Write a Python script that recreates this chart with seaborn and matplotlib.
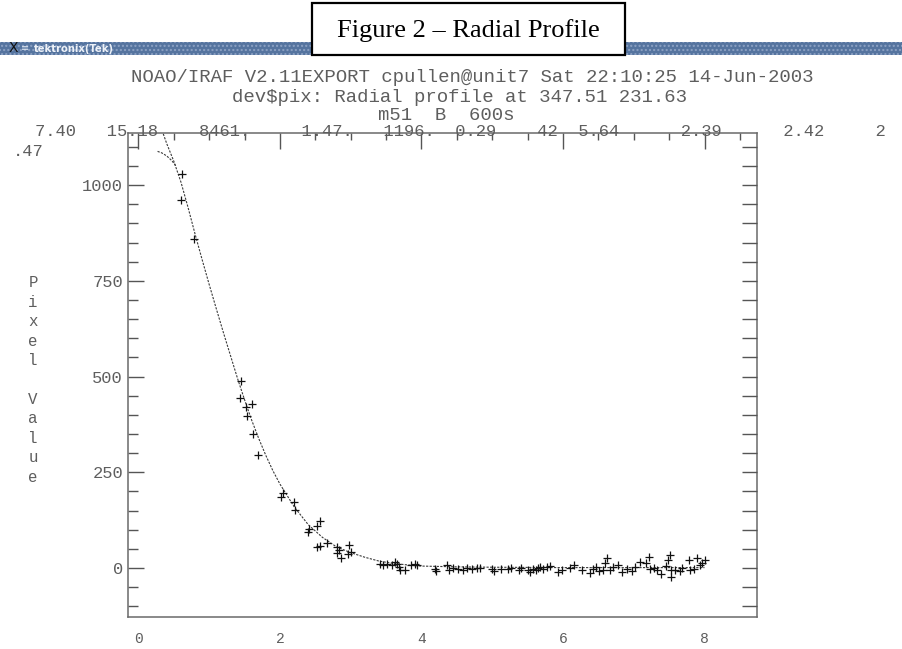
import numpy as np
import pandas as pd
import matplotlib
matplotlib.use("Agg")
import matplotlib.pyplot as plt
import seaborn as sns
from matplotlib.patches import Rectangle
from matplotlib.ticker import MultipleLocator, FixedLocator, NullLocator

# ---- measured radial profile (radius in pixels, pixel value in counts) ----
radius = [
    0.61, 0.60, 0.79,
    1.45, 1.44, 1.52, 1.60, 1.54, 1.62, 1.69,
    2.04, 2.02, 2.20, 2.21, 2.41, 2.40, 2.52, 2.56, 2.52, 2.57, 2.67,
    2.81, 2.84, 2.81, 2.86, 2.98, 3.01, 2.96,
    3.41, 3.45, 3.51, 3.58, 3.62, 3.65, 3.68, 3.70, 3.76, 3.85, 3.91, 3.93,
    4.19, 4.20, 4.36, 4.39, 4.45, 4.52, 4.59, 4.65, 4.71, 4.79, 4.82, 4.99, 5.02,
    5.13, 5.22, 5.27, 5.38, 5.40, 5.50, 5.54, 5.58, 5.62, 5.65, 5.68, 5.72,
    5.77, 5.82, 5.93, 5.98, 6.10, 6.15, 6.27, 6.38, 6.42, 6.47, 6.51, 6.56,
    6.60, 6.62, 6.66, 6.71, 6.78, 6.84, 6.90, 6.97, 7.02, 7.09, 7.18, 7.22,
    7.23, 7.28, 7.33, 7.39, 7.46, 7.48, 7.51, 7.52, 7.53, 7.58, 7.65, 7.68,
    7.78, 7.80, 7.85, 7.89, 7.93, 7.96, 8.01,
]
pixel_value = [
    1030, 962, 859,
    489, 444, 421, 429, 396, 351, 294,
    196, 185, 172, 151, 101, 94, 109, 123, 55, 57, 64,
    55, 46, 38, 27, 59, 42, 36,
    11, 7, 11, 7, 16, 11, 3, -4, -4, 7, 11, 9,
    -2, -8, 7, -4, 1, -2, -6, 1, -2, 1, 1, -2, -8,
    -2, -2, 1, -6, 1, -4, -10, -2, -6, 1, 3, -2,
    3, 5, -10, -4, 1, 7, -4, -14, -2, 3, -8, -4,
    12, 25, -6, 3, 7, -10, -2, -8, 3, 16, 12, 28,
    -2, 1, -4, -16, 5, 20, 33, -6, -23, -4, -8, 1,
    20, -6, -2, 25, 7, 12, 20,
]

# ---- fitted profile curves ----
fit_radius = [0.30, 0.40, 0.50, 0.60, 0.70, 0.80, 0.90, 1.00, 1.10, 1.20,
              1.30, 1.40, 1.50, 1.60, 1.70, 1.80, 1.90, 2.00, 2.20, 2.40,
              2.60, 2.80, 3.00, 3.20, 3.40, 3.60, 3.80, 4.00, 4.50, 5.00,
              6.00, 7.00, 8.00]
fit_value = [1160, 1108, 1062, 1008, 942, 872, 805, 740, 677, 615,
             555, 495, 439, 386, 338, 294, 254, 219, 160, 113,
             80, 55, 40, 28, 18, 12, 8, 5, 3, 2,
             1, 1, 1]
core_radius = [0.27, 0.33, 0.40, 0.47, 0.53]
core_value = [1088, 1084, 1076, 1064, 1050]

# ---- axis ticks ----
x_ticks = [0, 2, 4, 6, 8]
y_ticks = [0, 250, 500, 750, 1000]

# ---- text ----
window_title = "tektronix(Tek)"
caption = "Figure 2 \u2013 Radial Profile"
system_title = "NOAO/IRAF V2.11EXPORT cpullen@unit7 Sat 22:10:25 14-Jun-2003"
plot_title = "dev$pix: Radial profile at 347.51 231.63"
image_title = "m51  B  600s"
fit_values = ["7.40", "15.18", "8461.", "1.47.", "1196.", "0.29", "42",
              "5.64", "2.39", "2.42", "2"]
fit_columns = [0, 7, 16, 26, 34, 41, 49, 53, 63, 73, 82]
wrap_value = ".47"
y_label = "P\ni\nx\ne\nl\n\nV\na\nl\nu\ne"

W, H = 902, 649
sns.set_style("white")
plt.rcParams["font.family"] = ["Liberation Mono", "DejaVu Sans Mono"]

fig = plt.figure(figsize=(W / 100, H / 100), dpi=100)
fig.patch.set_facecolor("white")


def fx(px):
    return px / W


def fy(py):
    return 1 - py / H


TEK_GRAY = "#5e5e5e"
TEK_SIZE = 12.3      # header numbers and axis labels
TITLE_SIZE = 13.7    # title lines use a slightly wider character cell
TICK_COLOR = "#555555"

# ---- plot frame ----
ax = fig.add_axes([fx(128), fy(617), (757 - 128) / W, (617 - 133) / H])
ax.set_facecolor("white")

profile = pd.DataFrame({"radius": radius, "value": pixel_value})
fit = pd.DataFrame({"radius": fit_radius, "value": fit_value})
core = pd.DataFrame({"radius": core_radius, "value": core_value})

sns.lineplot(data=fit, x="radius", y="value", ax=ax, sort=False,
             estimator=None, color="#3a3a3a", linewidth=0.8,
             linestyle=(0, (2.0, 1.2)))
sns.lineplot(data=core, x="radius", y="value", ax=ax, sort=False,
             estimator=None, color="#3a3a3a", linewidth=0.8,
             linestyle=(0, (2.0, 1.2)))
sns.scatterplot(data=profile, x="radius", y="value", ax=ax, marker="+",
                color="#111111", s=38, linewidth=0.9, zorder=3)

YLIM = (-128, 1136)
ax.set_xlim(-0.148, 8.742)
ax.set_ylim(*YLIM)
ax.set_xlabel("")
ax.set_ylabel("")

ax.xaxis.set_major_locator(FixedLocator(x_ticks))
ax.xaxis.set_minor_locator(MultipleLocator(0.5))
ax.yaxis.set_major_locator(FixedLocator(y_ticks))
ax.yaxis.set_minor_locator(MultipleLocator(50))
ax.set_xticklabels([str(v) for v in x_ticks])
ax.set_yticklabels([str(v) for v in y_ticks])

# right-hand scale: evenly spaced ticks of one length every 50 counts
ax_r = ax.twinx()
ax_r.set_ylim(*YLIM)
ax_r.yaxis.set_major_locator(MultipleLocator(50))
ax_r.yaxis.set_minor_locator(NullLocator())
ax_r.tick_params(axis="y", which="major", direction="in", length=11,
                 width=1.0, color=TICK_COLOR, labelright=False)
for sp in ax_r.spines.values():
    sp.set_visible(False)

ax.tick_params(which="both", direction="in", top=True, right=False,
               color=TICK_COLOR, width=1.0)
ax.tick_params(which="major", length=11.5)
ax.tick_params(axis="x", which="minor", length=5.0)
ax.tick_params(axis="y", which="minor", length=7.0)
ax.tick_params(axis="x", which="major", pad=11, labelsize=TEK_SIZE - 1.8,
               labelcolor=TEK_GRAY)
ax.tick_params(axis="y", which="major", pad=3.5, labelsize=TEK_SIZE,
               labelcolor=TEK_GRAY)
for sp in ax.spines.values():
    sp.set_visible(True)
    sp.set_color("#6a6a6a")
    sp.set_linewidth(1.1)

# ---- window title bar and caption box ----
bar = Rectangle((0, fy(55)), 1, (55 - 42) / H, transform=fig.transFigure,
                facecolor="#55749f", edgecolor="#8da2c4", hatch="....",
                linewidth=0, zorder=1)
fig.patches.append(bar)
fig.text(fx(9), fy(48.5), "X", color="#101010", fontsize=10,
         family="DejaVu Sans", va="center", ha="left", zorder=2)
fig.text(fx(21), fy(48.5), "\u2261", color="#dfe6f0", fontsize=7,
         family="DejaVu Sans", va="center", ha="left", zorder=2)
fig.text(fx(34), fy(48.5), window_title, color="#eef2f8", fontsize=7.2,
         family="DejaVu Sans", weight="bold", va="center", ha="left", zorder=2)

box = Rectangle((fx(312), fy(55)), (625 - 312) / W, (55 - 3) / H,
                transform=fig.transFigure, facecolor="white",
                edgecolor="black", linewidth=1.6, zorder=4)
fig.patches.append(box)
fig.text(fx(468.5), fy(31), caption, fontsize=19, family="Liberation Serif",
         color="black", ha="center", va="center", zorder=5)

# ---- Tektronix header text ----
fig.text(fx(472), fy(78), system_title, fontsize=TITLE_SIZE, color=TEK_GRAY,
         ha="center", va="center", parse_math=False)
fig.text(fx(460), fy(97), plot_title, fontsize=TITLE_SIZE, color=TEK_GRAY,
         ha="center", va="center", parse_math=False)
fig.text(fx(446), fy(116), image_title, fontsize=TITLE_SIZE, color=TEK_GRAY,
         ha="center", va="center", parse_math=False)

chars = [" "] * (fit_columns[-1] + len(fit_values[-1]))
for col, val in zip(fit_columns, fit_values):
    chars[col:col + len(val)] = list(val)
fig.text(fx(35), fy(132), "".join(chars), fontsize=TEK_SIZE, color=TEK_GRAY,
         ha="left", va="center", parse_math=False)
fig.text(fx(13), fy(152), wrap_value, fontsize=TEK_SIZE, color=TEK_GRAY,
         ha="left", va="center", parse_math=False)

fig.text(fx(33), fy(380), y_label, fontsize=TEK_SIZE - 1, color=TEK_GRAY,
         ha="center", va="center", multialignment="center", linespacing=1.37)

fig.savefig("out.png", dpi=100, facecolor="white")
